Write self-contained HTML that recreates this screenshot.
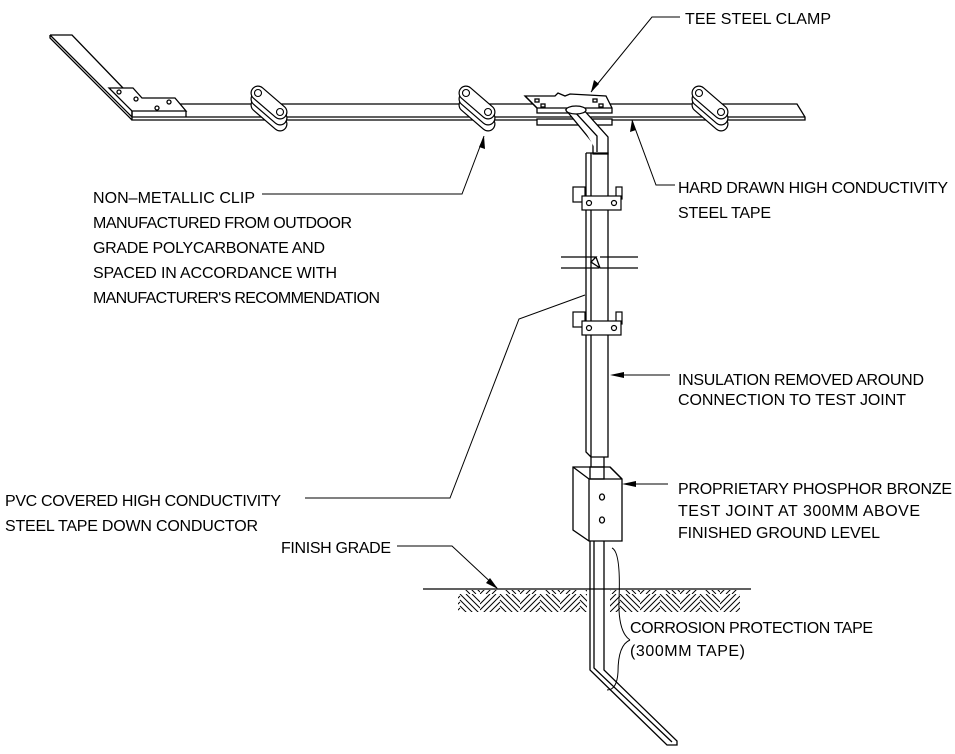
<!DOCTYPE html>
<html><head><meta charset="utf-8"><style>
html,body{margin:0;padding:0;background:#fff;}
svg{display:block}
text{font-family:"Liberation Sans",sans-serif;font-size:16px;fill:#000;}
</style></head><body>
<svg width="955" height="754" viewBox="0 0 955 754" xmlns="http://www.w3.org/2000/svg">
<defs>
<pattern id="hp" width="40" height="22" patternUnits="userSpaceOnUse">
<g stroke="#000" stroke-width="1">
<line x1="0" y1="22" x2="20" y2="2"/><line x1="6" y1="22" x2="20" y2="8"/><line x1="12" y1="22" x2="20" y2="14"/><line x1="0" y1="16" x2="16" y2="0"/><line x1="0" y1="10" x2="10" y2="0"/>
<line x1="20" y1="0" x2="40" y2="20"/><line x1="26" y1="0" x2="40" y2="14"/><line x1="32" y1="0" x2="40" y2="8"/><line x1="20" y1="6" x2="36" y2="22"/><line x1="20" y1="12" x2="30" y2="22"/>
</g></pattern>
<g id="clip">
<line x1="0" y1="12" x2="22" y2="31" stroke="#000" stroke-width="15" stroke-linecap="round"/>
<line x1="0" y1="12" x2="22" y2="31" stroke="#fff" stroke-width="12.6" stroke-linecap="round"/>
<line x1="0" y1="6" x2="22" y2="25" stroke="#000" stroke-width="15" stroke-linecap="round"/>
<line x1="0" y1="6" x2="22" y2="25" stroke="#fff" stroke-width="12.6" stroke-linecap="round"/>
<line x1="0" y1="0" x2="22" y2="19" stroke="#000" stroke-width="15" stroke-linecap="round"/>
<line x1="0" y1="0" x2="22" y2="19" stroke="#fff" stroke-width="12.6" stroke-linecap="round"/>
<circle cx="0" cy="0" r="3.5" fill="none" stroke="#000" stroke-width="1.1"/>
<circle cx="22" cy="19" r="3.5" fill="none" stroke="#000" stroke-width="1.1"/>
</g>
<g id="bracket" fill="#fff" stroke="#000" stroke-width="1.2">
<rect x="-9" y="-9" width="12" height="15"/>
<rect x="34" y="-9" width="6" height="12"/>
<rect x="0" y="0" width="39" height="14"/>
<circle cx="7" cy="7" r="2.5"/><circle cx="32" cy="7" r="2.5"/>
</g>
</defs>
<g fill="none" stroke="#000" stroke-width="1.3">
<path d="M50,35 L72,35 L123,88 M50,35 L50,38 L132,120 M50,35 L132,117"/>
<path d="M132,104 L797,104 L805,117 L805,120 L132,120 Z M132,117 L805,117" fill="#fff"/>
<path d="M109,88 L133,88 L142,98 L175,98 L186,111 L132,111 Z" fill="#fff"/>
<path d="M132,111 L132,117 M186,111 L186,117" />
<circle cx="119" cy="92" r="2"/><circle cx="136" cy="99" r="2"/><circle cx="157" cy="108" r="2"/><circle cx="169" cy="102" r="2"/>
</g>
<use href="#clip" x="258" y="93"/>
<use href="#clip" x="466" y="93"/>
<use href="#clip" x="699" y="93"/>
<g fill="#fff" stroke="#000" stroke-width="1.3">
<rect x="537" y="119" width="75" height="6"/>
<path d="M525,96 L555,96 L558,93 L565,96 L570,94 L606,96 L612,108 L612,113 L537,113 L537,108 Z"/>
<path d="M537,108 L612,108 M525,96 L537,108"/>
<path d="M566,110 L582,108 L608,137 L608,154 L593,154 L593,143 Z"/>
<path d="M573,110 L597,136 L597,152"/>
<ellipse cx="576" cy="110" rx="10" ry="4"/>
<rect x="535" y="99" width="4" height="3"/><rect x="541" y="104" width="4" height="3"/><rect x="593" y="99" width="4" height="3"/><rect x="599" y="104" width="4" height="3"/>
</g>
<g fill="none" stroke="#000" stroke-width="1.3">
<path d="M586,153 L608,153 L608,457 L591,457 M586,153 L586,452 L591,457 M591,153 L591,457"/>
<path d="M591,457 L591,467 M604,457 L604,467"/>
</g>
<g fill="#fff" stroke="#000" stroke-width="1.3">
<rect x="561" y="257" width="77" height="11" stroke="none"/>
<path d="M561,257 L596,257 L591,262 L600,268 L638,268 M561,268 L599,268 M600,257 L638,257 M596,257 L600,268"/>
<path d="M586,257 L586,268 M591,257 L591,268 M608,257 L608,268" fill="none"/>
</g>
<use href="#bracket" x="582" y="196"/>
<use href="#bracket" x="582" y="321"/>
<g fill="#fff" stroke="#000" stroke-width="1.3">
<path d="M573,467 L610,467 L622,479 L622,541 L589,541 L573,530 Z"/>
<path d="M589,479 L622,479 M589,479 L589,541 M573,467 L589,479 M610,467 L622,479"/>
<rect x="590" y="467" width="14" height="12" fill="none"/>
<ellipse cx="602" cy="497" rx="2.5" ry="3"/><ellipse cx="602" cy="520" rx="2.5" ry="3"/>
</g>
<rect x="458" y="590" width="129" height="22" fill="url(#hp)"/>
<rect x="610" y="590" width="130" height="22" fill="url(#hp)"/>
<g fill="none" stroke="#000" stroke-width="1.3">
<line x1="423" y1="589" x2="751" y2="589"/>
<path d="M590,541 L590,670 L667,745 L677,745 L677,741 L604,670 L604,541 M594,541 L594,668 L672,742"/>
<path d="M612,548 Q621,552 619,600 Q618,632 630,640 M630,640 Q618,645 618,672 Q617,690 607,690" stroke-width="1"/>
</g>
<g fill="none" stroke="#000" stroke-width="1">
<path d="M680,17 L652,17 L591,92"/>
<path d="M675,185 L656,185 L632,120"/>
<path d="M262,194 L462,194 L484,136"/>
<path d="M670,375 L612,375"/>
<path d="M305,498 L450,498 L519,319 L585,295"/>
<path d="M668,484 L624,484"/>
<path d="M397,546 L452,546 L497,588"/>
</g>
<g fill="#000">
<polygon points="591,92 594,80 599,84"/>
<polygon points="632,120 630,132 636,130"/>
<polygon points="484,136 479,147 485,149"/>
<polygon points="610,375 624,372 624,378"/>
<polygon points="622,484 636,481 636,487"/>
<polygon points="498,589 486,583 490,578"/>
</g>
<text x="685" y="24" textLength="146">TEE STEEL CLAMP</text>
<text x="678" y="193" textLength="270">HARD DRAWN HIGH CONDUCTIVITY</text>
<text x="678" y="218" textLength="93">STEEL TAPE</text>
<text x="93" y="203" textLength="162">NON–METALLIC CLIP</text>
<text x="93" y="228" textLength="259">MANUFACTURED FROM OUTDOOR</text>
<text x="93" y="253" textLength="232">GRADE POLYCARBONATE AND</text>
<text x="93" y="278" textLength="244">SPACED IN ACCORDANCE WITH</text>
<text x="93" y="303" textLength="287">MANUFACTURER'S RECOMMENDATION</text>
<text x="678" y="385" textLength="246">INSULATION REMOVED AROUND</text>
<text x="678" y="405" textLength="228">CONNECTION TO TEST JOINT</text>
<text x="5" y="506" textLength="276">PVC COVERED HIGH CONDUCTIVITY</text>
<text x="5" y="531" textLength="253">STEEL TAPE DOWN CONDUCTOR</text>
<text x="678" y="494" textLength="274">PROPRIETARY PHOSPHOR BRONZE</text>
<text x="678" y="516" textLength="242">TEST JOINT AT 300MM ABOVE</text>
<text x="678" y="538" textLength="202">FINISHED GROUND LEVEL</text>
<text x="281" y="553" textLength="110">FINISH GRADE</text>
<text x="630" y="633" textLength="243">CORROSION PROTECTION TAPE</text>
<text x="630" y="656" textLength="115">(300MM TAPE)</text>
</svg>
</body></html>
